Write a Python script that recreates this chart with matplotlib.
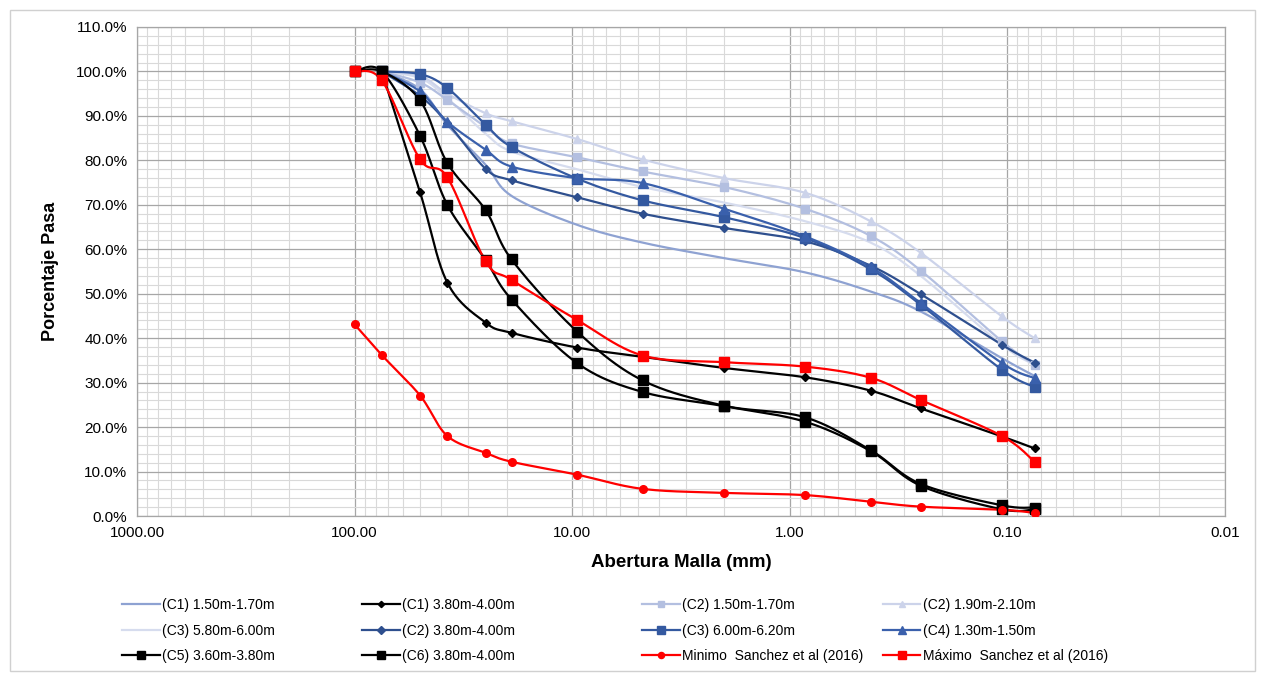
import numpy as np
import matplotlib
matplotlib.use("Agg")
from matplotlib import pyplot as plt
from matplotlib.lines import Line2D
from matplotlib.ticker import FixedLocator, FuncFormatter, MultipleLocator
from typing import List


# Data
# ------------------------------
# Sieve openings (mm)
sizes = [100, 75, 50, 37.5, 25, 19, 9.5, 4.75, 2.0, 0.85, 0.425, 0.25, 0.106, 0.075]
sizes_75 = sizes[1:]

c1_150 = [100, 96.0, 88.0, 79.0, 72.0, 65.5, 61.5, 58.0, 54.8, 50.5, 46.0, 35.5, 31.5]
c1_380 = [100, 72.8, 52.5, 43.5, 41.2, 37.9, 35.8, 33.3, 31.2, 28.2, 24.2, 17.9, 15.2]
c2_150 = [100, 97.5, 93.6, 87.5, 83.8, 80.7, 77.5, 74.0, 69.1, 63.0, 55.2, 39.3, 34.0]
c2_190 = [100, 99.0, 95.0, 90.6, 88.8, 84.8, 80.2, 76.0, 72.7, 66.3, 59.2, 44.9, 40.0]
c3_580 = [100, 98.5, 94.0, 86.0, 82.0, 78.0, 74.0, 70.5, 66.3, 61.5, 54.0, 38.5, 34.0]
c2_380 = [100, 94.5, 88.5, 78.1, 75.5, 71.7, 68.0, 64.8, 61.8, 56.3, 49.9, 38.5, 34.5]
c3_600 = [100, 99.4, 96.3, 88.0, 83.0, 75.9, 71.0, 67.2, 62.5, 55.5, 47.5, 32.9, 29.0]
c4_130 = [100, 95.5, 88.7, 82.4, 78.6, 76.0, 74.9, 69.1, 62.9, 56.0, 47.9, 34.4, 31.0]
c5_360 = [100, 100, 85.5, 70.0, 57.6, 48.7, 34.4, 27.9, 24.7, 21.2, 14.6, 6.8, 1.5, 1.5]
c6_380 = [100, 100, 93.5, 79.4, 68.8, 57.7, 41.5, 30.5, 24.8, 22.2, 14.8, 7.2, 2.4, 1.9]
minimo = [43.1, 36.2, 27.1, 18.0, 14.2, 12.2, 9.3, 6.1, 5.2, 4.7, 3.2, 2.1, 1.4, 0.7]
maximo = [100, 98.0, 80.2, 76.2, 57.3, 53.1, 44.1, 36.1, 34.6, 33.6, 31.1, 26.1, 18.0, 12.2]

x_ticks = [1000, 100, 10, 1, 0.1, 0.01]
x_tick_labels = ["1000.00", "100.00", "10.00", "1.00", "0.10", "0.01"]

# Pixel scale of the chart (used so the smoothing looks like Excel's)
DEC_PX = 217.5
PCT_PX = 4.44


def smooth(xv: List[float], yv: List[float], n: int = 24):
    """Excel-like smoothed line (Bezier through the points, in screen space)."""
    u = np.log10(np.asarray(xv, dtype=float)) * DEC_PX
    v = np.asarray(yv, dtype=float) * PCT_PX
    pts = np.column_stack([u, v])
    P = np.vstack([pts[0], pts, pts[-1]])
    t = np.linspace(0, 1, n)[:, None]
    segs = []
    for i in range(1, len(P) - 2):
        p0, p1, p2, p3 = P[i - 1], P[i], P[i + 1], P[i + 2]
        c1 = p1 + (p2 - p0) / 6
        c2 = p2 - (p3 - p1) / 6
        seg = (1 - t) ** 3 * p1 + 3 * (1 - t) ** 2 * t * c1 \
            + 3 * (1 - t) * t ** 2 * c2 + t ** 3 * p2
        segs.append(seg)
    out = np.vstack(segs)
    return 10 ** (out[:, 0] / DEC_PX), out[:, 1] / PCT_PX


plt.rcParams["font.family"] = ["Liberation Sans", "DejaVu Sans"]

fig = plt.figure(figsize=(12.61, 6.73), dpi=100)
ax = fig.add_axes([137 / 1261, 1 - 516 / 673, (1225 - 137) / 1261, (516 - 27) / 673])

# label, x, y, colour, marker, marker size
series = [
    ("(C1) 1.50m-1.70m", sizes_75, c1_150, "#8EA2D2", None, 0),
    ("(C1) 3.80m-4.00m", sizes_75, c1_380, "#000000", "D", 4),
    ("(C2) 1.50m-1.70m", sizes_75, c2_150, "#B3BFE0", "s", 6),
    ("(C2) 1.90m-2.10m", sizes_75, c2_190, "#CCD3EA", "^", 6),
    ("(C3) 5.80m-6.00m", sizes_75, c3_580, "#D6DCEE", None, 0),
    ("(C2) 3.80m-4.00m", sizes_75, c2_380, "#2E4F8E", "D", 4.5),
    ("(C3) 6.00m-6.20m", sizes_75, c3_600, "#3459A0", "s", 6.5),
    ("(C4) 1.30m-1.50m", sizes_75, c4_130, "#3A60AC", "^", 6.5),
    ("(C5) 3.60m-3.80m", sizes, c5_360, "#000000", "s", 7),
    ("(C6) 3.80m-4.00m", sizes, c6_380, "#000000", "s", 7),
    ("Minimo  Sanchez et al (2016)", sizes, minimo, "#FF0000", "o", 5.5),
    ("Máximo  Sanchez et al (2016)", sizes, maximo, "#FF0000", "s", 7),
]

# draw light lines first so dark ones sit on top
draw_order = [4, 3, 2, 0, 5, 6, 7, 1, 8, 9, 10, 11]
handles = {}
for idx in draw_order:
    label, xs, ys, col, mk, ms = series[idx]
    sx, sy = smooth(xs, ys)
    ax.plot(sx, sy, color=col, lw=1.6, zorder=3)
    if mk is not None:
        ax.plot(xs, ys, ls="none", marker=mk, ms=ms, color=col, zorder=4)
    handles[idx] = Line2D([], [], color=col, lw=1.6, marker=mk, ms=ms * 0.8)

# Axes
ax.set_xscale("log")
ax.set_xlim(1000, 0.01)
ax.set_ylim(0, 110)
ax.xaxis.set_major_locator(FixedLocator(x_ticks))
ax.xaxis.set_major_formatter(FuncFormatter(
    lambda v, p: x_tick_labels[x_ticks.index(v)] if v in x_ticks else ""))
minor_x = [m * 10.0 ** e for e in range(-2, 3) for m in range(2, 10)]
ax.xaxis.set_minor_locator(FixedLocator(minor_x))
ax.xaxis.set_minor_formatter(FuncFormatter(lambda v, p: ""))
ax.yaxis.set_major_locator(MultipleLocator(10))
ax.yaxis.set_minor_locator(MultipleLocator(2))
ax.yaxis.set_major_formatter(FuncFormatter(lambda v, p: f"{v:.1f}%"))

ax.grid(which="major", color="#A6A6A6", lw=0.9, zorder=0)
ax.grid(which="minor", color="#D9D9D9", lw=0.8, zorder=0)
ax.set_axisbelow(True)
for s in ax.spines.values():
    s.set_color("#A6A6A6")
    s.set_linewidth(0.9)
ax.tick_params(which="both", length=0, labelsize=11, colors="#000000")
ax.tick_params(axis="x", pad=7)
ax.tick_params(axis="y", pad=7)

ax.set_xlabel("Abertura Malla (mm)", fontsize=13.5, fontweight="bold", labelpad=10)
ax.set_ylabel("Porcentaje Pasa", fontsize=13, fontweight="bold", labelpad=12)

# Legend: four columns, filled row by row as in the original
col_x = [122, 362, 642, 883]
for c in range(4):
    idxs = [r * 4 + c for r in range(3)]
    fig.legend([handles[i] for i in idxs], [series[i][0] for i in idxs],
               loc="upper left", bbox_to_anchor=(col_x[c] / 1261, 1 - 598 / 673),
               frameon=False, fontsize=10, handlelength=2.7, handletextpad=0.15,
               labelspacing=0.84, borderpad=0, borderaxespad=0)

# light frame round the whole chart
fig.add_artist(plt.Rectangle((10 / 1261, 2 / 673), 1245 / 1261, 661 / 673,
                             transform=fig.transFigure, fill=False,
                             edgecolor="#D0D0D0", lw=1))

fig.savefig("out.png", dpi=100)
